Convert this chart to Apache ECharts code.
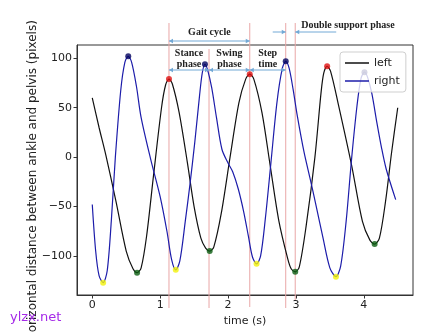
<!DOCTYPE html>
<html>
<head>
<meta charset="utf-8">
<script src="https://cdn.jsdelivr.net/npm/echarts@6/dist/echarts.min.js"></script>
<style>html,body{margin:0;padding:0;background:#fff}#c{width:429px;height:333px}</style>
</head>
<body>
<div id="c"></div>
<script>
// ---- data ----
const leftCurve = [[0,60],[0.1,30],[0.2,2],[0.35,-45],[0.5,-95],[0.6,-113],[0.66,-117],[0.72,-112],[0.8,-80],[0.9,-20],[1.02,50],[1.08,73],[1.13,79],[1.18,74],[1.28,45],[1.4,-5],[1.5,-50],[1.6,-82],[1.67,-92],[1.73,-95],[1.79,-91],[1.9,-57],[2.03,0],[2.16,55],[2.26,79],[2.32,84],[2.38,79],[2.5,45],[2.62,-8],[2.75,-65],[2.88,-103],[2.93,-113],[2.99,-116],[3.05,-111],[3.15,-70],[3.28,0],[3.37,65],[3.41,85],[3.46,92],[3.51,87],[3.62,55],[3.82,-8],[3.98,-65],[4.09,-84],[4.16,-88],[4.23,-82],[4.32,-45],[4.41,5],[4.5,50]];
const rightCurve = [[0,-48],[0.05,-95],[0.1,-120],[0.16,-127],[0.22,-115],[0.28,-65],[0.34,0],[0.42,68],[0.48,96],[0.53,102],[0.58,96],[0.65,72],[0.72,40],[0.86,-2],[1.0,-40],[1.1,-75],[1.17,-104],[1.23,-114],[1.29,-105],[1.37,-65],[1.44,-27],[1.51,15],[1.58,62],[1.62,85],[1.66,94],[1.7,88],[1.76,70],[1.83,40],[1.91,8],[2.0,-6],[2.07,-15],[2.15,-32],[2.23,-55],[2.3,-80],[2.36,-101],[2.42,-108],[2.48,-100],[2.55,-62],[2.63,-7],[2.72,55],[2.8,90],[2.85,97],[2.9,90],[2.96,68],[3.02,42],[3.12,5],[3.21,-22],[3.3,-50],[3.4,-82],[3.5,-112],[3.59,-121],[3.66,-110],[3.74,-65],[3.82,-2],[3.9,52],[3.96,80],[4.01,86],[4.06,80],[4.12,64],[4.19,36],[4.26,10],[4.33,-12],[4.47,-43]];
const leftPeaks = [[1.13,79],[2.32,84],[3.46,92]];
const leftTroughs = [[0.66,-117],[1.73,-95],[2.99,-116],[4.16,-88]];
const rightPeaks = [[0.53,102],[1.66,94],[2.85,97],[4.01,86]];
const rightTroughs = [[0.16,-127],[1.23,-114],[2.42,-108],[3.59,-121]];
const eventTimes = [1.13, 1.72, 2.32, 2.85, 2.99];
const xTicks = [0,1,2,3,4];
const yTicks = [-100,-50,0,50,100];
const seriesNames = ['left','right'];

const chart = echarts.init(document.getElementById('c'), null, {renderer:'canvas'});
const axisCol = '#333', txtCol = '#222';
const minusFmt = v => String(v).replace('-', '\u2212');

chart.setOption({
  animation: false,
  backgroundColor: '#fff',
  grid: {left: 77, right: 16, top: 45, bottom: 38, show: true, borderColor: axisCol, borderWidth: 1, containLabel: false},
  legend: {
    data: seriesNames.map(n => ({name: n, icon: 'rect'})), orient: 'vertical', left: 340, top: 52,
    itemWidth: 24, itemHeight: 1.5, itemGap: 6, padding: [5, 6, 5, 5],
    borderColor: '#cfcfcf', borderWidth: 1, borderRadius: 3,
    backgroundColor: 'rgba(255,255,255,0.8)',
    textStyle: {fontFamily: 'DejaVu Sans', fontSize: 11, color: txtCol, lineHeight: 12}
  },
  xAxis: {
    type: 'value', min: -0.225, max: 4.725,
    name: 'time (s)', nameLocation: 'middle', nameGap: 18,
    nameTextStyle: {fontFamily: 'DejaVu Sans', fontSize: 11, color: txtCol},
    axisLine: {show: true, onZero: false, lineStyle: {color: axisCol}},
    axisTick: {show: true, inside: false, length: 3.5, customValues: xTicks, lineStyle: {color: axisCol}},
    axisLabel: {customValues: xTicks, fontFamily: 'DejaVu Sans', fontSize: 11, color: txtCol, margin: 5},
    splitLine: {show: false}
  },
  yAxis: {
    type: 'value', min: -139.5, max: 113.5,
    axisLine: {show: true, onZero: false, lineStyle: {color: axisCol}},
    axisTick: {show: true, inside: false, length: 3.5, customValues: yTicks, lineStyle: {color: axisCol}},
    axisLabel: {customValues: yTicks, formatter: minusFmt, fontFamily: 'DejaVu Sans', fontSize: 11, color: txtCol, margin: 5},
    splitLine: {show: false}
  },
  series: [
    {name: 'left', type: 'line', data: leftCurve, smooth: 0.3, symbol: 'none', color: '#111', lineStyle: {color: '#111', width: 1.2}, z: 2},
    {name: 'right', type: 'line', data: rightCurve, smooth: 0.3, symbol: 'none', color: '#1c1caa', lineStyle: {color: '#1c1caa', width: 1.2}, z: 2},
    {type: 'scatter', data: leftPeaks, symbolSize: 6, itemStyle: {color: '#e01010'}, z: 3},
    {type: 'scatter', data: leftTroughs, symbolSize: 6, itemStyle: {color: '#0b5e12'}, z: 3},
    {type: 'scatter', data: rightPeaks, symbolSize: 6, itemStyle: {color: '#00005e'}, z: 3},
    {type: 'scatter', data: rightTroughs, symbolSize: 6, itemStyle: {color: '#f2f20a'}, z: 3}
  ]
});

// ---- annotations positioned via the axis scale ----
const px = t => chart.convertToPixel({gridIndex: 0}, [t, 0])[0];
const ex = eventTimes.map(px);
const lineCol = '#e9a7a7', arrowCol = '#72a9d6';
const g = [];
const vTop = [23, 49, 23, 23, 23], vBot = [308, 308, 307, 308, 300];
ex.forEach((x, i) => {
  g.push({type: 'line', shape: {x1: x, y1: vTop[i], x2: x, y2: vBot[i]}, style: {stroke: lineCol, lineWidth: 1}, z: 1});
});
function head(x, y, dir) { // dir = +1 points right, -1 points left
  g.push({type: 'polygon', shape: {points: [[x, y], [x - dir * 4, y - 2.2], [x - dir * 4, y + 2.2]]}, style: {fill: arrowCol}, z: 5});
}
function arrow(xa, xb, y, both) {
  g.push({type: 'line', shape: {x1: xa, y1: y, x2: xb, y2: y}, style: {stroke: arrowCol, lineWidth: 1}, z: 5});
  head(xb, y, xb > xa ? 1 : -1);
  if (both) head(xa, y, xa > xb ? 1 : -1);
}
arrow(ex[0], ex[2], 41, true);
arrow(ex[0], ex[1], 70, true);
arrow(ex[1], ex[2], 70, true);
arrow(ex[2], ex[3], 70, true);
arrow(ex[3] - 13, ex[3], 32, false);
arrow(ex[4] + 41, ex[4], 32, false);
const serif = {fontFamily: 'Liberation Serif', fontWeight: 'bold', fontSize: 10, fill: txtCol, align: 'center', verticalAlign: 'middle', lineHeight: 11};
function txt(s, x, y, extra) {
  g.push({type: 'text', x: x, y: y, style: Object.assign({}, serif, {text: s}, extra || {}), z: 6});
}
txt('Gait cycle', (ex[0] + ex[2]) / 2, 32);
txt('Stance\nphase', (ex[0] + ex[1]) / 2, 59);
txt('Swing\nphase', (ex[1] + ex[2]) / 2, 59);
txt('Step\ntime', (ex[2] + ex[3]) / 2, 59);
txt('Double support phase', ex[4] + 6, 25, {align: 'left'});
// y axis label (rotated)
g.push({type: 'text', x: 33, y: 180, rotation: Math.PI / 2,
  style: {text: 'horizontal distance between ankle and pelvis (pixels)', fontFamily: 'DejaVu Sans', fontSize: 12, fill: txtCol, align: 'center', verticalAlign: 'middle'}, z: 6});
// watermark
g.push({type: 'text', x: 10, y: 318, style: {text: 'ylzx.net', fontFamily: 'DejaVu Sans', fontSize: 13, fill: '#a52ae8', align: 'left', verticalAlign: 'middle'}, z: 7});
chart.setOption({graphic: g});
</script>
</body>
</html>
